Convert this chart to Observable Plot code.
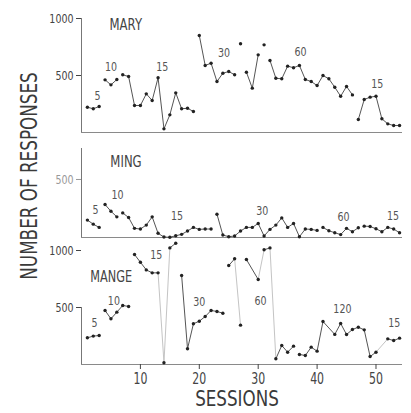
<!DOCTYPE html>
<html><head><meta charset="utf-8">
<script src="https://cdn.jsdelivr.net/npm/d3@7"></script>
<script src="https://cdn.jsdelivr.net/npm/@observablehq/plot@0.6"></script>
<style>
body{margin:0;background:#fff;}
#wrap{position:relative;width:411px;height:413px;overflow:hidden;font-family:"DejaVu Sans",sans-serif;color:#333;}
#wrap svg{position:absolute;left:0;}
.ytitle{position:absolute;left:28.5px;top:176px;transform:translate(-50%,-50%) rotate(-90deg) scale(0.73,1);font-size:23px;line-height:1;white-space:nowrap;color:#3a3a3a;}
.xtitle{position:absolute;left:236.5px;top:399px;transform:translate(-50%,-50%) scale(0.76,1);font-size:22px;line-height:1.1;white-space:nowrap;color:#3a3a3a;}
</style></head>
<body><div id="wrap"></div>
<script>
const FONT = '"DejaVu Sans",sans-serif';
const SX = 0.73; // horizontal squeeze to mimic the condensed lettering
const xDomain = [0, 54.5];
const xTicks = [10, 20, 30, 40, 50];

// MARY
const marySessions = d3.range(1, 55);
const maryValues = [222,208,228, 462,418,465, 506,491,237,237,339,281,480,32,155,348,208,213,184, 851,588,608,447,520,535,506, 778, 529,389,681, 769, 632,476,471,582,568,588,465,447,412,500,471,397,318,404,330, 114,289,310,318,120,76,61,61];
const maryBreaks = [4,7,20,27,28,31,32,47];
const maryLabelText = ["5","10","15","30","60","15"];
const maryLabelS = [2.7,5.0,13.7,24.2,37.2,50.2];
const maryLabelV = [325,573,573,699,704,427];

// MING
const mingSessions = d3.range(1, 55);
const mingValues = [150,115,87, 284,226,178, 212,172,79,73,107,178,36,4,2,15,27,56,87,70,73,73, 201,21,7,13,56,87,87,121,13,70,107,169,87,121,7,73,70,61, 87,58,41,25,79,50,84, 98,95,75,50,87,73,41];
const mingBreaks = [4,7,23,41,48];
const mingLabelText = ["5","10","15","30","60","15"];
const mingLabelS = [2.4,6.1,16.2,30.7,44.5,52.9];
const mingLabelV = [241,371,190,233,175,190];

// MANGE
const mangeSessions = [1,2,3,4,5,6,7,8,9,10,11,12,13,14,15,16,17,18,19,20,21,22,23,24,25,26,27,28,30,31,32,33,34,35,36,37,38,39,40,41,43,44,45,46,47,48,49,50,52,53,54];
const mangeValues = [234,249,254, 474,401,459,518,509, 965,897,830,804,804, 15, 1023,1064, 781,138,357,380,421,474,465,450, 868,927, 345, 921,746, 1006,1023, 50,167,108,161, 88,79,152,117,377,264,360,263,307,327,304,70,108, 225,210,231];
const mangeBreaks = [4,9,14,15,17,25,27,28,31,33,37,52];
const mangeFaint = [[13,14],[14,15],[26,27],[30,31],[32,33],[50,52]];
const mangeLabelText = ["5","10","15","30","60","120","15"];
const mangeLabelS = [2.2,5.5,12.7,20,30.4,44.3,53.1];
const mangeLabelV = [362,555,965,546,555,491,362];

function rows(sessions, values, breaks) {
  return sessions.map((s, i) => ({s, v: values[i], seg: breaks.filter(b => b <= s).length}));
}
function labelRows(t, s, v) { return t.map((d, i) => ({t: d, s: s[i], v: v[i]})); }

function squeeze(svg) {
  for (const t of svg.querySelectorAll("text")) {
    const tr = t.getAttribute("transform") || "";
    t.setAttribute("transform", `${tr} scale(${SX},1)`);
  }
}

function panel(o) {
  const data = rows(o.sessions, o.values, o.breaks);
  const byS = new Map(data.map(d => [d.s, d.v]));
  const faint = (o.faint || []).map(([a, b]) => ({x1: a, y1: byS.get(a), x2: b, y2: byS.get(b)}));
  const marks = [
    Plot.ruleY([0], {stroke: "#8a8a8a", strokeWidth: 1}),
    Plot.ruleX([0], {y1: 0, y2: o.axisTop, stroke: "#777", strokeWidth: 1}),
    Plot.link(faint, {x1: "x1", y1: "y1", x2: "x2", y2: "y2", stroke: "#c4c4c4", strokeWidth: 1}),
    Plot.line(data, {x: "s", y: "v", z: "seg", stroke: "#555", strokeWidth: 1}),
    Plot.dot(data, {x: "s", y: "v", r: 1.7, fill: "#222", stroke: "none"}),
    Plot.text(labelRows(o.lt, o.ls, o.lv), {x: "s", y: "v", text: "t", fontSize: 13, fill: "#555"}),
    Plot.text([o.name], {x: o.nameS, y: o.nameV, text: d => d, textAnchor: "start", fontSize: o.nameSize, fill: "#444"}),
    Plot.axisY({ticks: o.yTicks, tickFormat: d3.format("d"), tickSize: 5, tickPadding: 3, fontSize: 13, color: o.yColor || "#444", label: null})
  ];
  if (o.xAxis) marks.push(Plot.axisX({ticks: xTicks, tickFormat: d3.format("d"), tickSize: 5, tickPadding: 4, fontSize: 15, color: "#444", label: null}));
  const svg = Plot.plot({
    width: 411, height: o.height,
    marginLeft: 81, marginRight: 9, marginTop: o.marginTop, marginBottom: o.marginBottom,
    x: {domain: xDomain, axis: o.xAxis ? undefined : null},
    y: {domain: o.yDomain},
    style: {background: "none", fontFamily: FONT, color: "#333", overflow: "visible"},
    marks
  });
  squeeze(svg);
  svg.style.top = o.top + "px";
  return svg;
}

const wrap = document.getElementById("wrap");
wrap.appendChild(panel({
  sessions: marySessions, values: maryValues, breaks: maryBreaks,
  lt: maryLabelText, ls: maryLabelS, lv: maryLabelV,
  name: "MARY", nameS: 4.75, nameV: 945, nameSize: 16,
  top: 0, height: 140, marginTop: 18, marginBottom: 8, yDomain: [0, 1000], axisTop: 1000, yTicks: [500, 1000]
}));
wrap.appendChild(panel({
  sessions: mingSessions, values: mingValues, breaks: mingBreaks,
  lt: mingLabelText, ls: mingLabelS, lv: mingLabelV,
  name: "MING", nameS: 4.9, nameV: 649, nameSize: 16,
  top: 140, height: 105, marginTop: 8, marginBottom: 8, yDomain: [0, 767], axisTop: 767, yTicks: [500], yColor: "#999"
}));
wrap.appendChild(panel({
  sessions: mangeSessions, values: mangeValues, breaks: mangeBreaks, faint: mangeFaint,
  lt: mangeLabelText, ls: mangeLabelS, lv: mangeLabelV,
  name: "MANGE", nameS: 1.5, nameV: 766, nameSize: 15.5,
  top: 235, height: 178, marginTop: 3.6, marginBottom: 49, yDomain: [0, 1100], axisTop: 500, yTicks: [500, 1000], xAxis: true
}));

const yt = document.createElement("div");
yt.className = "ytitle"; yt.textContent = "NUMBER OF RESPONSES";
wrap.appendChild(yt);
const xt = document.createElement("div");
xt.className = "xtitle"; xt.textContent = "SESSIONS";
wrap.appendChild(xt);
</script></body></html>
